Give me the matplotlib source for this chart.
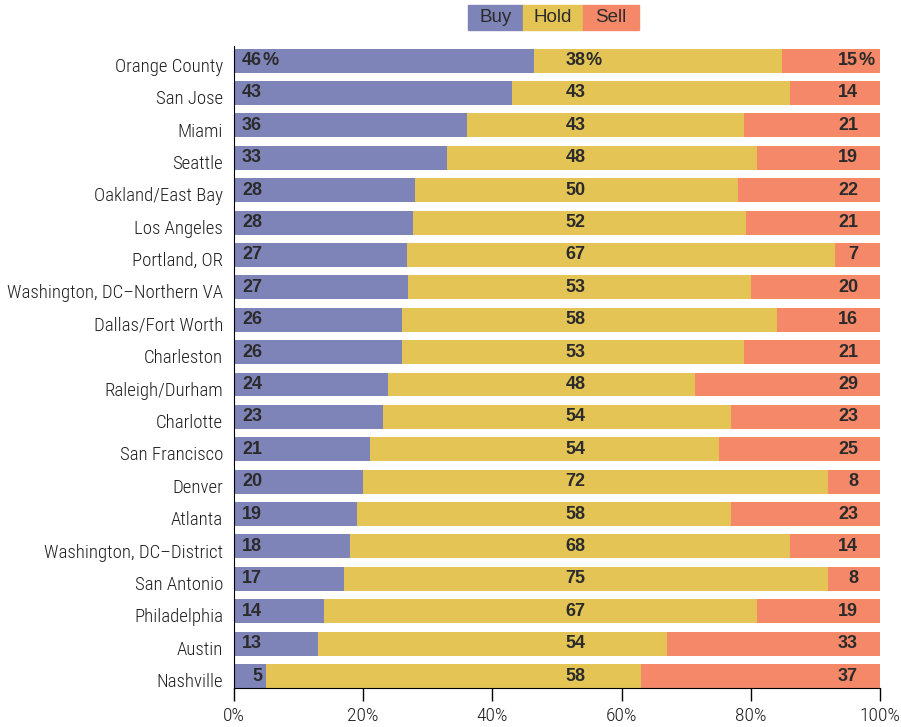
import numpy as np
import matplotlib.pyplot as plt
import matplotlib.transforms as mtransforms
from matplotlib.patches import Rectangle

cities = ["Orange County", "San Jose", "Miami", "Seattle", "Oakland/East Bay",
          "Los Angeles", "Portland, OR", "Washington, DC\u2013Northern VA",
          "Dallas/Fort Worth", "Charleston", "Raleigh/Durham", "Charlotte",
          "San Francisco", "Denver", "Atlanta", "Washington, DC\u2013District",
          "San Antonio", "Philadelphia", "Austin", "Nashville"]
buy = np.array([46, 43, 36, 33, 28, 28, 27, 27, 26, 26, 24, 23, 21, 20, 19, 18, 17, 14, 13, 5])
hold = np.array([38, 43, 43, 48, 50, 52, 67, 53, 58, 53, 48, 54, 54, 72, 58, 68, 75, 67, 54, 58])
sell = np.array([15, 14, 21, 19, 22, 21, 7, 20, 16, 21, 29, 23, 25, 8, 23, 14, 8, 19, 33, 37])
xticks = [0, 20, 40, 60, 80, 100]
legend_names = ["Buy", "Hold", "Sell"]
colors = ["#7f84b8", "#e3c455", "#f48868"]

narrow = ["Roboto Condensed", "DejaVu Sans"]
bold = ["Liberation Sans", "DejaVu Sans"]
txtc = "#2b2b2b"

# scale each row so it fills 100%
tot = buy + hold + sell
b = buy / tot * 100
h = hold / tot * 100
s = sell / tot * 100

fig = plt.figure(figsize=(9.01, 7.27), dpi=100)
ax = fig.add_axes([234 / 901, 1 - 688 / 727, 646 / 901, (688 - 46) / 727])

y = np.arange(len(cities))
ax.barh(y, b, height=0.74, color=colors[0])
ax.barh(y, h, left=b, height=0.74, color=colors[1])
ax.barh(y, s, left=b + h, height=0.74, color=colors[2])

fs = 13
for i in range(len(cities)):
    t1 = ax.text(4.35, i, str(buy[i]), ha="right", va="center", fontsize=fs,
                 fontweight="bold", family=bold, color=txtc)
    t2 = ax.text(52.9, i, str(hold[i]), ha="center", va="center", fontsize=fs,
                 fontweight="bold", family=bold, color=txtc)
    t3 = ax.text(96.6, i, str(sell[i]), ha="right", va="center", fontsize=fs,
                 fontweight="bold", family=bold, color=txtc)
    if i == 0:
        # percent sign hangs after the number
        for t in (t1, t2, t3):
            ax.annotate("%", xy=(1, 0), xycoords=t, va="bottom", ha="left",
                        fontsize=fs, fontweight="bold", family=bold, color=txtc)

ax.set_xlim(0, 100)
ax.set_ylim(len(cities) - 1 + 0.37, -0.45)
ax.set_yticks(y)
ax.set_yticklabels(cities, family=narrow, fontsize=13.5, fontweight=300, color="#1e1e1e")
ax.set_xticks(xticks)
ax.set_xticklabels([f"{v}%" for v in xticks], family=narrow, fontsize=14,
                   fontweight=300, color="#1e1e1e")
ax.tick_params(axis="y", length=0, pad=8)
ax.tick_params(axis="x", length=9, width=1, pad=5)
for sp in ["top", "right"]:
    ax.spines[sp].set_visible(False)

# city names sit a little lower than bar centres
shift = mtransforms.ScaledTranslation(0, -3 / 72, fig.dpi_scale_trans)
for lab in ax.get_yticklabels():
    lab.set_transform(lab.get_transform() + shift)

# legend boxes on top
lx = [468, 523, 583, 639]
for k in range(3):
    x0 = lx[k] / 901
    w = (lx[k + 1] - lx[k]) / 901
    fig.patches.append(Rectangle((x0, 1 - 30 / 727), w, 25 / 727,
                                 transform=fig.transFigure, color=colors[k]))
    fig.text(x0 + w / 2, 1 - 18 / 727, legend_names[k], ha="center", va="center",
             family=bold, fontsize=13.5, color="#2b2b2b")

fig.savefig("out.png", dpi=100)
